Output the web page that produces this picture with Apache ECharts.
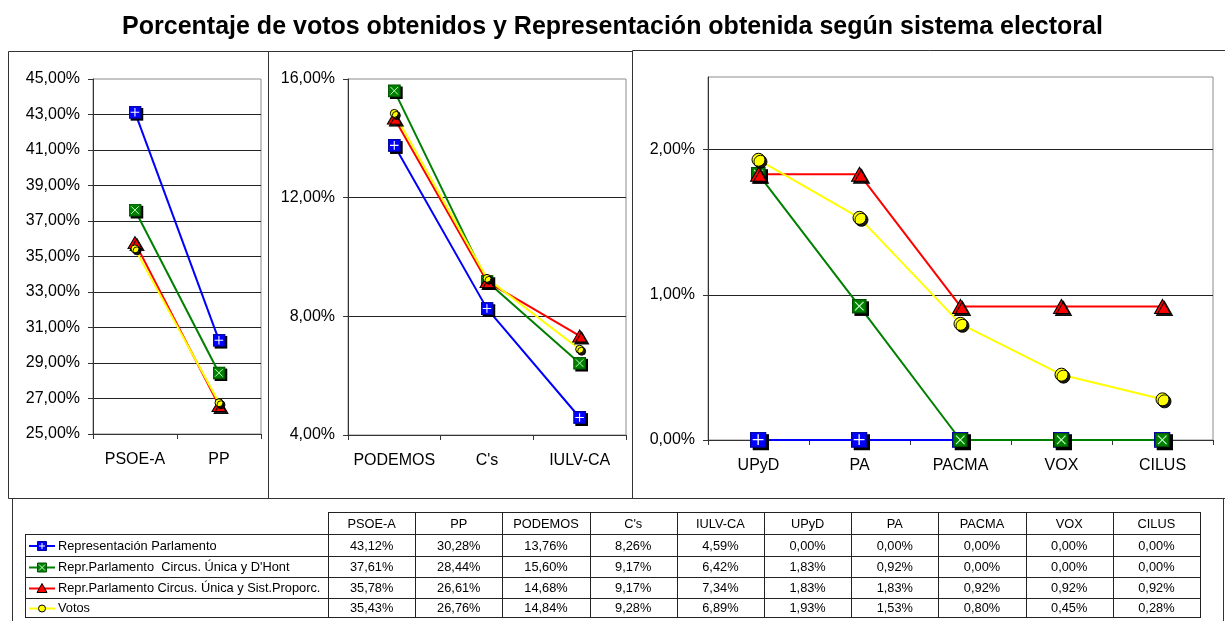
<!DOCTYPE html>
<html>
<head>
<meta charset="utf-8">
<script src="https://cdn.jsdelivr.net/npm/echarts@6/dist/echarts.min.js"></script>
<style>
  html, body { margin: 0; padding: 0; background: #fff; }
  #chart { width: 1225px; height: 621px; }
</style>
</head>
<body>
<div id="chart"></div>
<script>
  // datos (porcentajes)
  var categories = ['PSOE-A', 'PP', 'PODEMOS', "C's", 'IULV-CA', 'UPyD', 'PA', 'PACMA', 'VOX', 'CILUS'];
  var seriesNames = [
    'Representación Parlamento',
    'Repr.Parlamento  Circus. Única y D\'Hont',
    'Repr.Parlamento Circus. Única y Sist.Proporc.',
    'Votos'
  ];
  var representacion = [43.12, 30.28, 13.76, 8.26, 4.59, 0.00, 0.00, 0.00, 0.00, 0.00];
  var dhont = [37.61, 28.44, 15.60, 9.17, 6.42, 1.83, 0.92, 0.00, 0.00, 0.00];
  var proporcional = [35.78, 26.61, 14.68, 9.17, 7.34, 1.83, 1.83, 0.92, 0.92, 0.92];
  var votos = [35.43, 26.76, 14.84, 9.28, 6.89, 1.93, 1.53, 0.80, 0.45, 0.28];
  var allValues = [representacion, dhont, proporcional, votos];

  // paneles: rango de categorias y eje Y
  var panelRanges = [[0, 2], [2, 5], [5, 10]];
  var yMin = [25, 4, 0];
  var yMax = [45, 16, 2.5];
  var yStep = [2, 4, 1];

  var FONT = '"Liberation Sans", Arial, sans-serif';

  function fmt(v) {
    return v.toFixed(2).replace('.', ',') + '%';
  }

  function svgUri(svg) {
    return 'image://data:image/svg+xml;charset=utf-8,' + encodeURIComponent(svg);
  }

  // simbolos estilo Excel (con sombra)
  var blueSym = svgUri('<svg xmlns="http://www.w3.org/2000/svg" width="14" height="14" viewBox="0 0 14 14">' +
    '<rect x="2" y="2" width="12" height="12" fill="#000"/>' +
    '<rect x="0.5" y="0.5" width="11" height="11" fill="#0000ff" stroke="#0000a0"/>' +
    '<path d="M6 2V10M2 6H10" stroke="#fff" stroke-width="1"/></svg>');
  var greenSym = svgUri('<svg xmlns="http://www.w3.org/2000/svg" width="14" height="14" viewBox="0 0 14 14">' +
    '<rect x="2" y="2" width="12" height="12" fill="#000"/>' +
    '<rect x="0.5" y="0.5" width="11" height="11" fill="#008000" stroke="#005000"/>' +
    '<path d="M2.5 2.5L9.5 9.5M9.5 2.5L2.5 9.5" stroke="#c8ffc8" stroke-width="0.9"/></svg>');

  var colors = ['#0000ff', '#008000', '#ff0000', '#ffff00'];
  var symbols = [blueSym, greenSym, 'triangle', 'circle'];
  var symSizes = [
    [15, 15, [14, 12], 8],
    [15, 15, [14, 12], 8],
    [19, 17, [16, 14], 13]
  ];

  var shadow = { shadowColor: 'rgba(0,0,0,0.9)', shadowOffsetX: 2, shadowOffsetY: 2, shadowBlur: 0 };

  var grids = [
    { left: 93, top: 79, width: 168, height: 355 },
    { left: 348, top: 79, width: 278, height: 356 },
    { left: 708, top: 77, width: 505, height: 363 }
  ];

  var xAxes = [], yAxes = [], series = [];
  panelRanges.forEach(function (r, p) {
    grids[p].show = true;
    grids[p].borderColor = '#8c8c8c';
    grids[p].borderWidth = 1;
    grids[p].backgroundColor = '#fff';
    xAxes.push({
      gridIndex: p,
      type: 'category',
      data: categories.slice(r[0], r[1]),
      boundaryGap: true,
      axisLine: { lineStyle: { color: '#333', width: 1 } },
      axisTick: { show: true, length: 5, lineStyle: { color: '#333' } },
      axisLabel: { color: '#000', fontSize: 16, fontFamily: FONT, margin: 18, interval: 0 },
      splitLine: { show: false }
    });
    yAxes.push({
      gridIndex: p,
      type: 'value',
      min: yMin[p],
      max: yMax[p],
      interval: yStep[p],
      axisLine: { show: true, lineStyle: { color: '#333', width: 1 } },
      axisTick: { show: true, length: 5, lineStyle: { color: '#333' } },
      axisLabel: {
        color: '#000', fontSize: 16, fontFamily: FONT, margin: 13,
        showMaxLabel: p !== 2,
        formatter: function (v) { return fmt(v); }
      },
      splitLine: { show: true, showMaxLine: false, lineStyle: { color: '#222', width: 1 } }
    });
    allValues.forEach(function (vals, s) {
      var img = s < 2;
      series.push({
        name: seriesNames[s],
        type: 'line',
        xAxisIndex: p,
        yAxisIndex: p,
        data: vals.slice(r[0], r[1]),
        symbol: symbols[s],
        symbolSize: symSizes[p][s],
        symbolOffset: img ? [1, 1] : [0, 0],
        showAllSymbol: true,
        lineStyle: { color: colors[s], width: 2 },
        itemStyle: img ? { color: colors[s] } : Object.assign({
          color: colors[s], borderColor: '#000', borderWidth: 1
        }, shadow),
        emphasis: { disabled: true },
        z: 2
      });
    });
  });

  // marcos y tabla de datos
  var graphic = [];
  var frame = { stroke: '#333', lineWidth: 1, fill: 'none' };
  graphic.push({ type: 'rect', shape: { x: 8.5, y: 51.5, width: 260, height: 447 }, style: frame, silent: true });
  graphic.push({ type: 'rect', shape: { x: 268.5, y: 51.5, width: 364, height: 447 }, style: frame, silent: true });
  graphic.push({ type: 'rect', shape: { x: 632.5, y: 50.5, width: 620, height: 448 }, style: frame, silent: true });
  graphic.push({ type: 'rect', shape: { x: 12.5, y: 498.5, width: 1211, height: 150 }, style: frame, silent: true });

  var colLeft = 328, colW = 87.2, headTop = 512;
  var rowY = [534, 556, 577, 598, 617];
  var legLeft = 25, tableRight = colLeft + colW * categories.length;
  var lineSt = { stroke: '#222', lineWidth: 1 };

  function hline(y, x1, x2) {
    graphic.push({ type: 'line', shape: { x1: x1, y1: y + 0.5, x2: x2, y2: y + 0.5 }, style: lineSt, silent: true });
  }
  function vline(x, y1, y2) {
    x = Math.round(x);
    graphic.push({ type: 'line', shape: { x1: x + 0.5, y1: y1, x2: x + 0.5, y2: y2 }, style: lineSt, silent: true });
  }
  function txt(x, y, t, align) {
    graphic.push({
      type: 'text', x: x, y: y, silent: true,
      style: { text: t, fill: '#000', font: '12.8px ' + FONT, textAlign: align || 'center', textVerticalAlign: 'middle' }
    });
  }

  hline(headTop, colLeft, tableRight + 1);
  rowY.forEach(function (y) { hline(y, legLeft, tableRight + 1); });
  vline(legLeft, rowY[0], rowY[4] + 1);
  for (var c = 0; c <= categories.length; c++) {
    vline(colLeft + c * colW, headTop, rowY[4] + 1);
  }
  categories.forEach(function (cat, c) {
    txt(colLeft + c * colW + colW / 2, (headTop + rowY[0]) / 2 + 1, cat);
  });
  allValues.forEach(function (vals, s) {
    var cy = (rowY[s] + rowY[s + 1]) / 2 + 1;
    vals.forEach(function (v, c) {
      txt(colLeft + c * colW + colW / 2, cy, fmt(v));
    });
    txt(58, cy, seriesNames[s], 'left');
    // icono de leyenda
    graphic.push({ type: 'line', shape: { x1: 29, y1: cy, x2: 55, y2: cy }, style: { stroke: colors[s], lineWidth: 2 }, silent: true });
    if (s === 0) {
      graphic.push({ type: 'rect', shape: { x: 37.5, y: cy - 4.5, width: 9, height: 9 }, style: { fill: '#0000ff', stroke: '#0000a0' }, silent: true });
      graphic.push({ type: 'line', shape: { x1: 42, y1: cy - 3, x2: 42, y2: cy + 3 }, style: { stroke: '#fff', lineWidth: 1 }, silent: true });
      graphic.push({ type: 'line', shape: { x1: 39, y1: cy, x2: 45, y2: cy }, style: { stroke: '#fff', lineWidth: 1 }, silent: true });
    } else if (s === 1) {
      graphic.push({ type: 'rect', shape: { x: 37.5, y: cy - 4.5, width: 9, height: 9 }, style: { fill: '#008000', stroke: '#005000' }, silent: true });
      graphic.push({ type: 'line', shape: { x1: 39, y1: cy - 3, x2: 45, y2: cy + 3 }, style: { stroke: '#c8ffc8', lineWidth: 1 }, silent: true });
      graphic.push({ type: 'line', shape: { x1: 45, y1: cy - 3, x2: 39, y2: cy + 3 }, style: { stroke: '#c8ffc8', lineWidth: 1 }, silent: true });
    } else if (s === 2) {
      graphic.push({ type: 'polygon', shape: { points: [[42, cy - 5], [47, cy + 4], [37, cy + 4]] }, style: { fill: '#ff0000', stroke: '#000' }, silent: true });
    } else {
      graphic.push({ type: 'circle', shape: { cx: 42, cy: cy, r: 3.5 }, style: { fill: '#ffff00', stroke: '#000' }, silent: true });
    }
  });

  var myChart = echarts.init(document.getElementById('chart'));
  var option = {
    backgroundColor: '#fff',
    animation: false,
    title: {
      text: 'Porcentaje de votos obtenidos y Representación obtenida según sistema electoral',
      left: 'center',
      top: 10,
      textStyle: { fontSize: 25, fontWeight: 'bold', color: '#000', fontFamily: FONT }
    },
    grid: grids,
    xAxis: xAxes,
    yAxis: yAxes,
    series: series,
    graphic: graphic
  };
  myChart.setOption(option);
</script>
</body>
</html>
